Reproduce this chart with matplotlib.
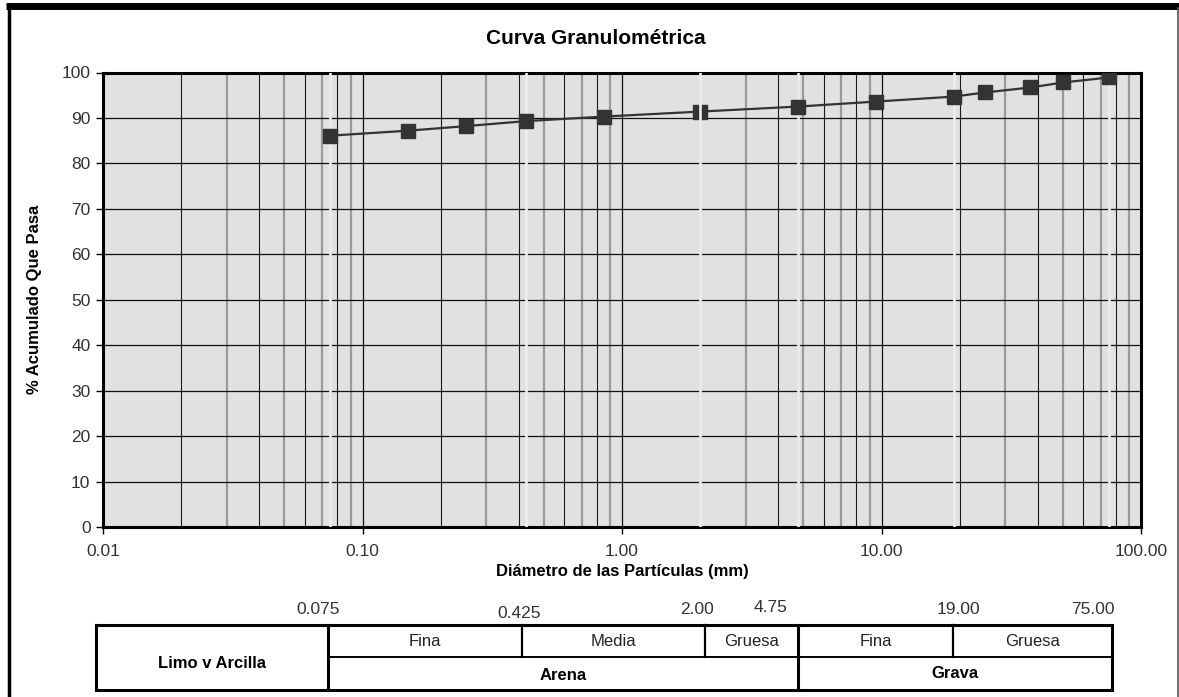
import matplotlib
matplotlib.use('Agg')
import matplotlib.pyplot as plt
from matplotlib.ticker import FixedLocator, NullLocator
from matplotlib import font_manager

# ---------------- data ----------------
diam = [0.075, 0.15, 0.25, 0.425, 0.85, 2.0, 4.75, 9.5, 19.0, 25.0, 37.5, 50.0, 75.0]
passing = [86.1, 87.2, 88.2, 89.3, 90.3, 91.4, 92.5, 93.6, 94.7, 95.6, 96.7, 97.8, 98.9]

x_ticks = [0.01, 0.1, 1, 10, 100]
x_tick_labels = ['0.01', '0.10', '1.00', '10.00', '100.00']
y_ticks = list(range(0, 101, 10))

limits = [0.075, 0.425, 2.00, 4.75, 19.00, 75.00]
limit_labels = ['0.075', '0.425', '2.00', '4.75', '19.00', '75.00']

sub_labels = ['Fina', 'Media', 'Gruesa', 'Fina', 'Gruesa']
group_labels = ['Limo v Arcilla', 'Arena', 'Grava']

# ---------------- fonts ----------------
avail = {f.name for f in font_manager.fontManager.ttflist}
FAM = [f for f in ['Liberation Sans Narrow', 'Liberation Sans', 'DejaVu Sans'] if f in avail]
plt.rcParams['font.family'] = FAM

W, H = 1179, 697
fig = plt.figure(figsize=(W / 100, H / 100), dpi=100)
fig.patch.set_facecolor('white')


def fx(px):
    return px / W


def fy(py):
    return 1 - py / H


ax_l, ax_r, ax_t, ax_b = 103, 1141, 72.5, 527
ax = fig.add_axes([fx(ax_l), fy(ax_b), fx(ax_r - ax_l), (ax_b - ax_t) / H])
ax.set_facecolor('#e1e1e1')
ax.set_xscale('log')
ax.set_xlim(0.01, 100)
ax.set_ylim(0, 100)

# gridlines
for dec in [0.01, 0.1, 1, 10]:
    for k in range(2, 10):
        v = dec * k
        if k % 2 == 0:
            ax.axvline(v, color='#1a1a1a', lw=0.8, zorder=1)
        else:
            ax.axvline(v, color='#9a9a9a', lw=1.6, zorder=1)
    if dec > 0.01:
        ax.axvline(dec, color='#111111', lw=0.9, zorder=1)
for yv in y_ticks[1:-1]:
    ax.axhline(yv, color='#111111', lw=0.9, zorder=1.2)

# light limit lines
for v in limits:
    z = 6 if v == 2.0 else 2.8
    ax.axvline(v, color='#ededed', lw=1.9, zorder=z)

# data
ax.plot(diam, passing, color='#333333', lw=1.6, marker='s', markersize=10,
        markerfacecolor='#333333', markeredgecolor='#333333', zorder=5)

# ticks
ax.xaxis.set_major_locator(FixedLocator(x_ticks))
ax.xaxis.set_minor_locator(NullLocator())
ax.set_xticklabels(x_tick_labels)
ax.set_yticks(y_ticks)
ax.tick_params(axis='both', direction='out', length=5, width=1, colors='black',
               labelsize=12.5, labelcolor='#333333')
ax.tick_params(axis='x', pad=7)
ax.tick_params(axis='y', pad=4)
for s in ax.spines.values():
    s.set_linewidth(2.2)
    s.set_color('black')

ax.set_xlabel('Diámetro de las Partículas (mm)', fontsize=12, fontweight='bold', labelpad=4)
ax.set_ylabel('% Acumulado Que Pasa', fontsize=12, fontweight='bold', labelpad=14)
fig.text(fx(596), fy(38), 'Curva Granulométrica', fontsize=15, fontweight='bold',
         ha='center', va='center')

# ---------------- overlay (frame + table) ----------------
ov = fig.add_axes([0, 0, 1, 1], zorder=-1)
ov.set_xlim(0, W)
ov.set_ylim(H, 0)
ov.axis('off')
ov.patch.set_alpha(0)

ov.plot([6, W], [6, 6], color='black', lw=5, solid_capstyle='butt')
ov.plot([8.5, 8.5], [4, H], color='black', lw=2.5, solid_capstyle='butt')
ov.plot([1177.5, 1177.5], [8, H], color='#555555', lw=1.2)

ov2 = fig.add_axes([0, 0, 1, 1])
ov2.set_xlim(0, W)
ov2.set_ylim(H, 0)
ov2.axis('off')
ov2.patch.set_alpha(0)

t_l, t_r, t_t, t_m, t_b = 96, 1112, 625, 657, 690
cols = [328, 522, 705, 798, 953]
lw_out = 2.2
ov2.plot([t_l, t_r, t_r, t_l, t_l], [t_t, t_t, t_b, t_b, t_t], color='black', lw=lw_out,
         solid_joinstyle='miter')
ov2.plot([cols[0], cols[0]], [t_t, t_b], color='black', lw=lw_out)
ov2.plot([cols[3], cols[3]], [t_t, t_b], color='black', lw=lw_out)
for c in [cols[1], cols[2], cols[4]]:
    ov2.plot([c, c], [t_t, t_m], color='black', lw=1.6)
ov2.plot([cols[0], t_r], [t_m, t_m], color='black', lw=1.4)

edges = [cols[0], cols[1], cols[2], cols[3], cols[4], t_r]
for i, lab in enumerate(sub_labels):
    ov2.text((edges[i] + edges[i + 1]) / 2, 642, lab, fontsize=12, color='#222222',
             ha='center', va='center')
ov2.text((t_l + cols[0]) / 2, 664, group_labels[0], fontsize=12, fontweight='bold',
         ha='center', va='center')
ov2.text((cols[0] + cols[3]) / 2, 675, group_labels[1], fontsize=12, fontweight='bold',
         ha='center', va='center')
ov2.text((cols[3] + t_r) / 2, 674, group_labels[2], fontsize=12, fontweight='bold',
         ha='center', va='center')

lim_pos = [(318, 610), (519, 613), (697, 610), (771, 608), (958, 610), (1093, 610)]
for (px, py), lab in zip(lim_pos, limit_labels):
    ov2.text(px, py, lab, fontsize=12.5, color='#333333', ha='center', va='center')

fig.savefig('out.png', dpi=100, facecolor='white')
